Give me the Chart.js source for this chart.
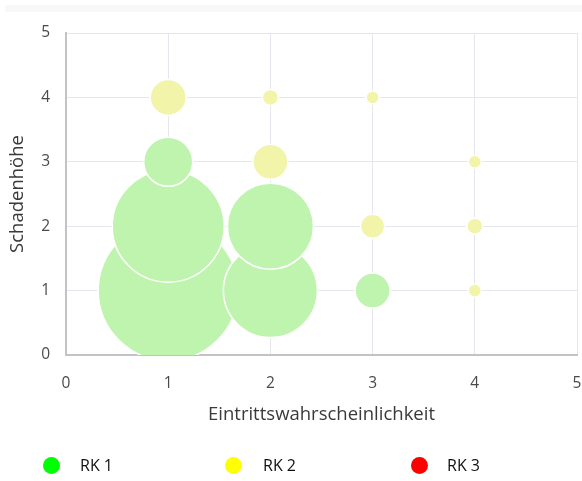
<!DOCTYPE html>
<html>
<head>
<meta charset="utf-8">
<script src="https://cdn.jsdelivr.net/npm/chart.js@4"></script>
<style>
  html, body { margin: 0; padding: 0; background: #fff; }
  #wrap { position: relative; width: 582px; height: 481px; overflow: hidden; font-family: "Open Sans", "Noto Sans", sans-serif; }
  #band { position: absolute; left: 5px; right: 0; top: 5px; height: 7px; background: #f8f8f8; }
  canvas { position: absolute; left: 0; top: 0; }
  .lg { position: absolute; top: 454px; height: 22px; display: flex; align-items: center; font-size: 16px; color: #111; }
  .dot { position: absolute; width: 17px; height: 17px; border-radius: 50%; }
</style>
</head>
<body>
<div id="wrap">
  <div id="band"></div>
  <canvas id="c" width="582" height="481"></canvas>
  <div id="legend"></div>
</div>
<script>
// ---- data ----
const seriesNames = ["RK 1", "RK 2", "RK 3"];
const legendColors = ["#00ff00", "#ffff00", "#ff0000"];
// RK 1 (green) bubbles: x = Eintrittswahrscheinlichkeit, y = Schadenhöhe, r = bubble radius
const rk1X = [1, 2, 3, 1, 2, 1];
const rk1Y = [1, 1, 1, 2, 2, 3];
const rk1R = [70, 47, 17.5, 56, 43, 24.5];
// RK 2 (yellow) bubbles
const rk2X = [4, 3, 4, 2, 4, 1, 2, 3];
const rk2Y = [1, 2, 2, 3, 3, 4, 4, 4];
const rk2R = [6.5, 12, 8, 17.5, 6.5, 18, 8, 6.5];
// RK 3 (red) bubbles
const rk3X = [];
const rk3Y = [];
const rk3R = [];
const xTicks = [0, 1, 2, 3, 4, 5];
const yTicks = [0, 1, 2, 3, 4, 5];
const xTitle = "Eintrittswahrscheinlichkeit";
const yTitle = "Schadenhöhe";

function pts(xs, ys, rs) { return xs.map((x, i) => ({ x: x, y: ys[i], r: rs[i] })); }

const tickFont = { family: "'Open Sans', 'Noto Sans', sans-serif", size: 15.5 };
const titleFont = { family: "'Open Sans', 'Noto Sans', sans-serif", size: 18.5 };

new Chart(document.getElementById('c'), {
  type: 'bubble',
  data: {
    datasets: [
      { label: seriesNames[2], data: pts(rk3X, rk3Y, rk3R), backgroundColor: '#f7b0b0', borderColor: '#fff', borderWidth: 1.5, clip: 0 },
      { label: seriesNames[1], data: pts(rk2X, rk2Y, rk2R), backgroundColor: '#f1f4a9', borderColor: '#fff', borderWidth: 1.5, clip: 0 },
      { label: seriesNames[0], data: pts(rk1X, rk1Y, rk1R), backgroundColor: '#bff4ae', borderColor: '#fff', borderWidth: 1.5, clip: 0 }
    ]
  },
  options: {
    responsive: false,
    animation: false,
    events: [],
    layout: { autoPadding: false, padding: { top: 33, right: 5, bottom: 41, left: 0 } },
    plugins: { legend: { display: false }, tooltip: { enabled: false } },
    scales: {
      x: {
        type: 'linear', min: 0, max: 5,
        afterBuildTicks: (s) => { s.ticks = xTicks.map(v => ({ value: v })); },
        afterFit: (s) => { s.height = 85; s.paddingLeft = 0; s.paddingRight = 0; },
        ticks: { font: tickFont, color: '#4a4a4a', padding: 19 },
        grid: { color: '#e6e6ee', lineWidth: 1, drawTicks: false },
        border: { color: '#c3c3c3', width: 2 },
        title: { display: true, text: xTitle, font: titleFont, color: '#3a3a3a', padding: { top: 0, bottom: 14 } }
      },
      y: {
        type: 'linear', min: 0, max: 5,
        afterBuildTicks: (s) => { s.ticks = yTicks.map(v => ({ value: v })); },
        afterFit: (s) => { s.width = 66; s.paddingTop = 0; s.paddingBottom = 0; },
        ticks: { font: tickFont, color: '#4a4a4a', padding: 16 },
        grid: { color: '#e6e6ee', lineWidth: 1, drawTicks: false },
        border: { color: '#c3c3c3', width: 2 },
        title: { display: true, text: yTitle, font: titleFont, color: '#3a3a3a', padding: { top: 7, bottom: 0 } }
      }
    }
  }
});

// HTML legend
const legendDotX = [43, 225, 411];
const legendTextX = [80, 263, 447];
const lg = document.getElementById('legend');
seriesNames.forEach((name, i) => {
  const d = document.createElement('div');
  d.className = 'dot';
  d.style.left = legendDotX[i] + 'px';
  d.style.top = '457px';
  d.style.background = legendColors[i];
  lg.appendChild(d);
  const t = document.createElement('div');
  t.className = 'lg';
  t.style.left = legendTextX[i] + 'px';
  t.textContent = name;
  lg.appendChild(t);
});
</script>
</body>
</html>
